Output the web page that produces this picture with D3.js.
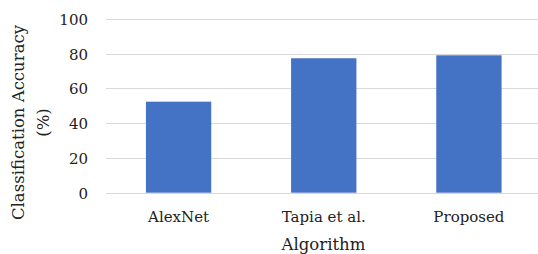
<!DOCTYPE html>
<html>
<head>
<meta charset="utf-8">
<script src="https://cdn.jsdelivr.net/npm/d3@7/dist/d3.min.js"></script>
<style>
  html, body { margin: 0; padding: 0; background: #fff; }
  svg { display: block; }
</style>
</head>
<body>
<script>
const categories = ["AlexNet", "Tapia et al.", "Proposed"];
const accuracy = [52.4, 77.4, 79.1];
const yTicks = [0, 20, 40, 60, 80, 100];
const xTitle = "Algorithm";
const yTitleLines = ["Classification Accuracy", "(%)"];

const W = 538, H = 254;
const svg = d3.select("body").append("svg").attr("width", W).attr("height", H);

const x = d3.scaleBand().domain(categories).range([106, 541.5])
  .paddingInner(0.55).paddingOuter(0.275);
const y = d3.scaleLinear().domain([0, 100]).range([192.7, 19]);

const font = "DejaVu Serif";

// gridlines
svg.append("g").selectAll("line").data(yTicks).join("line")
  .attr("x1", 106).attr("x2", W)
  .attr("y1", d => Math.round(y(d)) + 0.5).attr("y2", d => Math.round(y(d)) + 0.5)
  .attr("stroke", "#d9d9d9").attr("stroke-width", 1);

// y axis labels
const yAxis = d3.axisLeft(y).tickValues(yTicks).tickSize(0).tickPadding(0);
const gy = svg.append("g").attr("transform", "translate(88,0)").call(yAxis);
gy.select(".domain").remove();
gy.selectAll("text").attr("font-family", font).attr("font-size", "15px").attr("fill", "#222").attr("dy", "0.36em");

// bars
svg.append("g").selectAll("rect").data(categories).join("rect")
  .attr("x", d => x(d))
  .attr("width", x.bandwidth())
  .attr("y", (d, i) => y(accuracy[i]))
  .attr("height", (d, i) => y(0) - y(accuracy[i]))
  .attr("fill", "#4472C4");

// x axis labels
const xAxis = d3.axisBottom(x).tickSize(0).tickPadding(0);
const gx = svg.append("g").attr("transform", "translate(0,211)").call(xAxis);
gx.select(".domain").remove();
gx.selectAll("text").attr("font-family", font).attr("font-size", "15px").attr("fill", "#222").attr("dy", "0.71em");

// x title
svg.append("text").attr("x", 323.5).attr("y", 250)
  .attr("text-anchor", "middle").attr("font-family", font).attr("font-size", "16.5px").attr("fill", "#222")
  .text(xTitle);

// y title
const yt = svg.append("text").attr("transform", "rotate(-90)")
  .attr("text-anchor", "middle").attr("font-family", font).attr("font-size", "16.5px").attr("fill", "#222");
yt.selectAll("tspan").data(yTitleLines).join("tspan")
  .attr("x", -122.5).attr("y", (d, i) => 24 + i * 25)
  .text(d => d);
</script>
</body>
</html>
